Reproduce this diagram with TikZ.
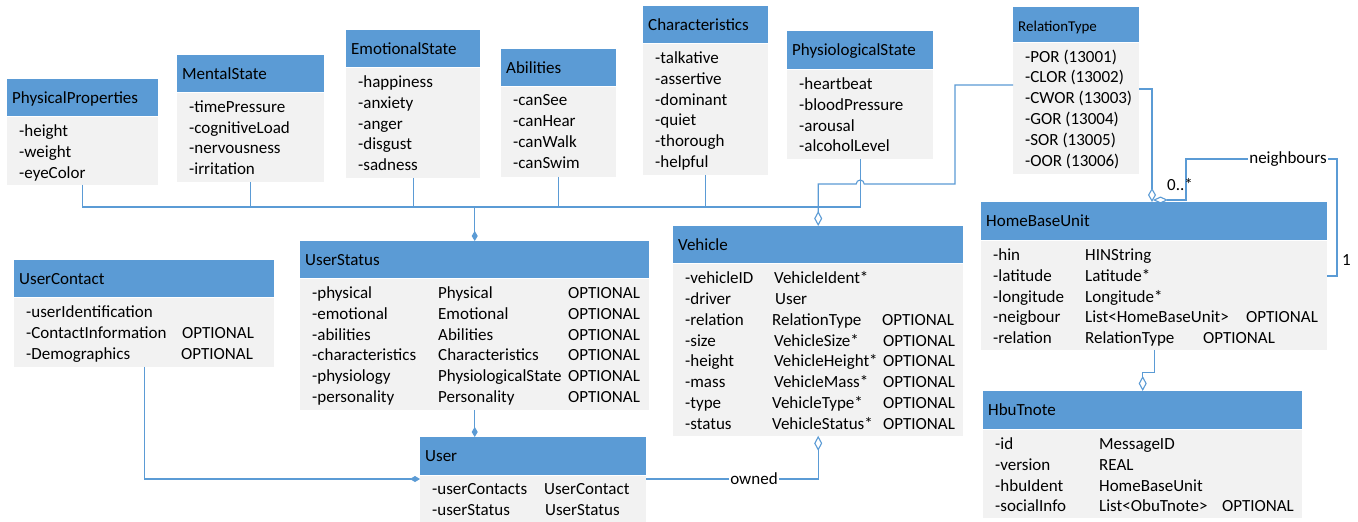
\documentclass[tikz,border=0pt]{standalone}
\usepackage{fontspec}
\setmainfont{Carlito}
\usetikzlibrary{arrows.meta,calc}

\definecolor{hdrblue}{RGB}{91,155,213}
\definecolor{bodygray}{RGB}{242,242,242}
\definecolor{lineblue}{RGB}{91,155,213}

\tikzset{
  hdr/.style={anchor=north west, fill=hdrblue, draw=none, inner sep=0pt},
  bdy/.style={anchor=north west, fill=bodygray, draw=none, inner sep=0pt},
  ttl/.style={anchor=base west, inner sep=0pt, font=\fontsize{17}{20.8}\selectfont},
  rows/.style={anchor=north west, inner sep=0pt, align=left,
    font=\fontsize{17}{20.8}\selectfont, execute at begin node=\strut},
  conn/.style={draw=lineblue, line width=1.1pt},
  lbl/.style={inner sep=1pt, font=\fontsize{17}{20.8}\selectfont},
  fdia/.style={-{Diamond[length=10pt,width=6pt]}},
  odia/.style={-{Diamond[open,length=15pt,width=8pt]}},
  odiar/.style={{Diamond[open,length=15pt,width=8pt]}-},
}

% class box: name, top-left, width, header height, body height, title, rows
\newcommand\umlbox[7]{%
  \node[hdr, minimum width=#3pt, minimum height=#4pt] (#1) at (#2) {};
  \node[ttl] (#1-n) at ([shift={(5,5.5)}]#1.west) {#6};
  \node[bdy, minimum width=#3pt, minimum height=#5pt] (#1-b) at (#1.south west) {};
  \node[rows] (#1-t) at ([shift={(12,8)}]#1-b.north west) {#7};
}
\newcommand\cola[2]{\makebox[#1pt][l]{#2}}

\begin{document}
\begin{tikzpicture}[x=1pt,y=-1pt]
\useasboundingbox[fill=white] (0,0) rectangle (1358,522);

% ---- attribute groups of the user status ----
\umlbox{pp}{7,79}{151}{37}{68}{PhysicalProperties}{-height\\-weight\\-eyeColor}
\umlbox{ms}{177,55}{147}{37}{89}{MentalState}{-timePressure\\-cognitiveLoad\\-nervousness\\-irritation}
\umlbox{es}{346,30}{134}{37}{110}{EmotionalState}{-happiness\\-anxiety\\-anger\\-disgust\\-sadness}
\umlbox{ab}{501,49}{115}{37}{90}{Abilities}{-canSee\\-canHear\\-canWalk\\-canSwim}
\umlbox{ch}{643,6}{125}{37}{131}{Characteristics}{-talkative\\-assertive\\-dominant\\-quiet\\-thorough\\-helpful}
\umlbox{ps}{787,31}{146}{38}{89}{PhysiologicalState}{-heartbeat\\-bloodPressure\\-arousal\\-alcoholLevel}

% ---- relation type enumeration ----
\node[hdr, minimum width=126pt, minimum height=35pt] (rt) at (1013,7) {};
\node[ttl, font=\fontsize{15}{18}\selectfont] (rt-n) at ([shift={(5,6.5)}]rt.west) {RelationType};
\node[bdy, minimum width=126pt, minimum height=131pt] (rt-b) at (rt.south west) {};
\node[rows] (rt-t) at ([shift={(12,7)}]rt-b.north west)
  {-POR (13001)\\-CLOR (13002)\\-CWOR (13003)\\-GOR (13004)\\-SOR (13005)\\-OOR (13006)};

% ---- user side ----
\umlbox{uc}{14,260}{260}{37}{69}{UserContact}
  {-userIdentification\\\cola{156}{-ContactInformation}OPTIONAL\\\cola{155}{-Demographics}OPTIONAL}
\umlbox{us}{300,241}{349}{37}{131}{UserStatus}
  {\cola{126}{-physical}\cola{130}{Physical}OPTIONAL\\
   \cola{126}{-emotional}\cola{130}{Emotional}OPTIONAL\\
   \cola{126}{-abilities}\cola{130}{Abilities}OPTIONAL\\
   \cola{126}{-characteristics}\cola{130}{Characteristics}OPTIONAL\\
   \cola{126}{-physiology}\cola{130}{PhysiologicalState}OPTIONAL\\
   \cola{126}{-personality}\cola{130}{Personality}OPTIONAL}
\umlbox{user}{420,437}{226}{38}{47}{User}
  {\cola{112}{-userContacts}UserContact\\\cola{113}{-userStatus}UserStatus}

% ---- vehicle ----
\umlbox{veh}{673,226}{290}{37}{172}{Vehicle}
  {\cola{89}{-vehicleID}VehicleIdent*\\
   \cola{90}{-driver}User\\
   \cola{87}{-relation}\cola{110}{RelationType}OPTIONAL\\
   \cola{89}{-size}\cola{109}{VehicleSize*}OPTIONAL\\
   \cola{89}{-height}\cola{109}{VehicleHeight*}OPTIONAL\\
   \cola{89}{-mass}\cola{109}{VehicleMass*}OPTIONAL\\
   \cola{87}{-type}\cola{111}{VehicleType*}OPTIONAL\\
   \cola{87}{-status}\cola{111}{VehicleStatus*}OPTIONAL}

% ---- home base unit and its note ----
\umlbox{hbu}{981,202}{346}{38}{109}{HomeBaseUnit}
  {\cola{92}{-hin}HINString\\
   \cola{92}{-latitude}Latitude*\\
   \cola{92}{-longitude}Longitude*\\
   \cola{92}{-neigbour}\cola{161}{List<HomeBaseUnit>}OPTIONAL\\
   \cola{92}{-relation}\cola{118}{RelationType}OPTIONAL}
\umlbox{hn}{983,391}{319}{38}{88}{HbuTnote}
  {\cola{104}{-id}MessageID\\
   \cola{104}{-version}REAL\\
   \cola{104}{-hbuIdent}HomeBaseUnit\\
   \cola{104}{-socialInfo}\cola{123}{List<ObuTnote>}OPTIONAL}

% ---- composition bus into UserStatus ----
\coordinate (bus) at (0,207);
\draw[conn] (pp-b.south) |- (ps-b.south |- bus) -- (ps-b.south);
\foreach \n in {ms,es,ab,ch} \draw[conn] (\n-b.south) -- (\n-b.south |- bus);
\draw[conn, fdia] (us.north |- bus) -- (us.north);

% ---- vehicle to relation type, hopping over the physiology line ----
\coordinate (vj) at (0,184);
\coordinate (rtj) at (955,85);
\draw[conn, odiar] (veh.north) -- (veh.north |- vj)
  -- ([xshift=-4pt]ps-b.south |- vj) arc[start angle=180, end angle=360, radius=4]
  -- (rtj |- vj) -- (rtj) -- (rtj -| rt-b.west);

% ---- relation type to home base unit ----
\coordinate (rtr) at (1152,89);
\draw[conn, -{Diamond[open,length=14pt,width=8pt]}] (rtr -| rt-b.east) -- (rtr) -- (rtr |- hbu.north);

% ---- neighbours self association ----
\coordinate (nbt) at (1153,200);
\coordinate (nbc) at (1186,159);
\coordinate (nbr) at (1337,276);
\draw[conn, {Diamond[open,length=15pt,width=7pt]}-] (nbt) -- (nbc |- nbt) -- (nbc) -| (nbr) -- (nbr -| hbu-b.east);
\node[lbl, fill=white] (nbl) at (1288,159) {neighbours};
\node[lbl, anchor=west] (m0) at (1166,185) {0..*};
\node[lbl, anchor=west] (m1) at (1341,260) {1};

% ---- home base unit to its note ----
\draw[conn, odia] (hbu-b.south) -- ++(0,23) -| (hn.north);

% ---- user associations ----
\coordinate (ow) at (0,479);
\draw[conn, odiar] (veh-b.south) -- (veh-b.south |- ow) -- (user-b.east |- ow);
\node[lbl, fill=white] (owl) at (754,479) {owned};
\draw[conn, fdia] (uc-b.south) |- (user-b.west |- ow);
\draw[conn, fdia] (us-b.south) -- (us-b.south |- user.north);
\end{tikzpicture}
\end{document}
